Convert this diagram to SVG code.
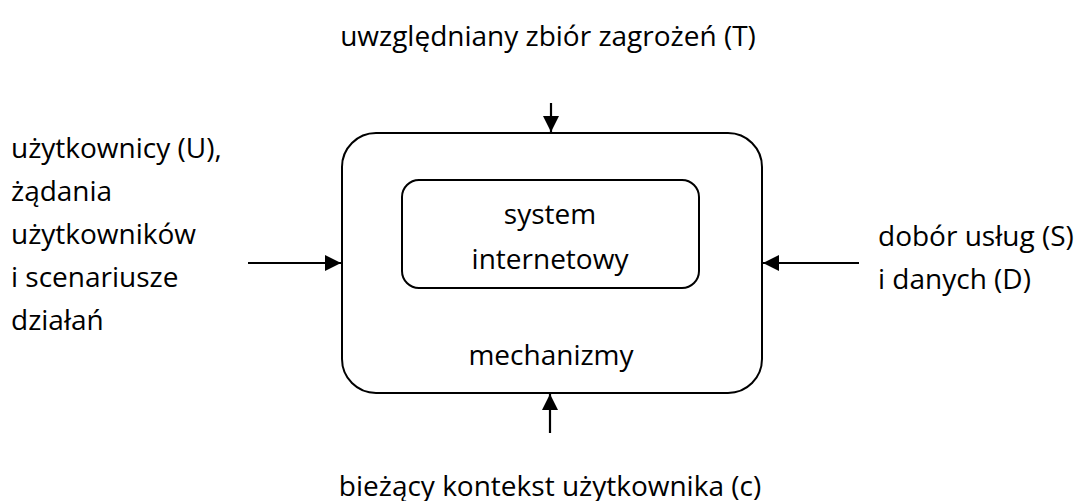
<svg xmlns="http://www.w3.org/2000/svg" width="1077" height="501" viewBox="0 0 1077 501">
<style>
text{font-family:"Open Sans","Liberation Sans",sans-serif;font-size:28px;fill:#000}
.box{fill:#fff;stroke:#000;stroke-width:2}
.c{text-anchor:middle}
.conn line{stroke:#000;stroke-width:2.2}
</style>
<defs>
<marker id="ah" viewBox="0 0 16 16" refX="16" refY="8" markerWidth="16" markerHeight="16" markerUnits="userSpaceOnUse" orient="auto">
<path d="M0,0 L16,8 L0,16 Z" fill="#000"/>
</marker>
</defs>
<rect width="1077" height="501" fill="#fff"/>
<g id="mechanizmy">
<rect class="box" x="342" y="133" width="420" height="260" rx="34" ry="34"/>
<text class="c" x="551" y="365">mechanizmy</text>
</g>
<g id="system">
<rect class="box" x="402" y="180" width="297" height="108" rx="17" ry="17"/>
<text class="c" x="550" y="224">system</text>
<text class="c" x="550" y="269">internetowy</text>
</g>
<g id="top-label"><text class="c" x="548" y="46">uwzględniany zbiór zagrożeń (T)</text></g>
<g id="left-label">
<text x="11" y="158">użytkownicy (U),</text>
<text x="11" y="201">żądania</text>
<text x="11" y="244">użytkowników</text>
<text x="11" y="287">i scenariusze</text>
<text x="11" y="330">działań</text>
</g>
<g id="right-label">
<text x="878" y="246">dobór usług (S)</text>
<text x="878" y="289">i danych (D)</text>
</g>
<g id="bottom-label"><text class="c" x="550" y="496">bieżący kontekst użytkownika (c)</text></g>
<g class="conn" id="connectors">
<line x1="551" y1="103" x2="551" y2="132" marker-end="url(#ah)"/>
<line x1="550" y1="433" x2="550" y2="394" marker-end="url(#ah)"/>
<line x1="248" y1="263" x2="341" y2="263" marker-end="url(#ah)"/>
<line x1="859" y1="263" x2="763" y2="263" marker-end="url(#ah)"/>
</g>
</svg>
